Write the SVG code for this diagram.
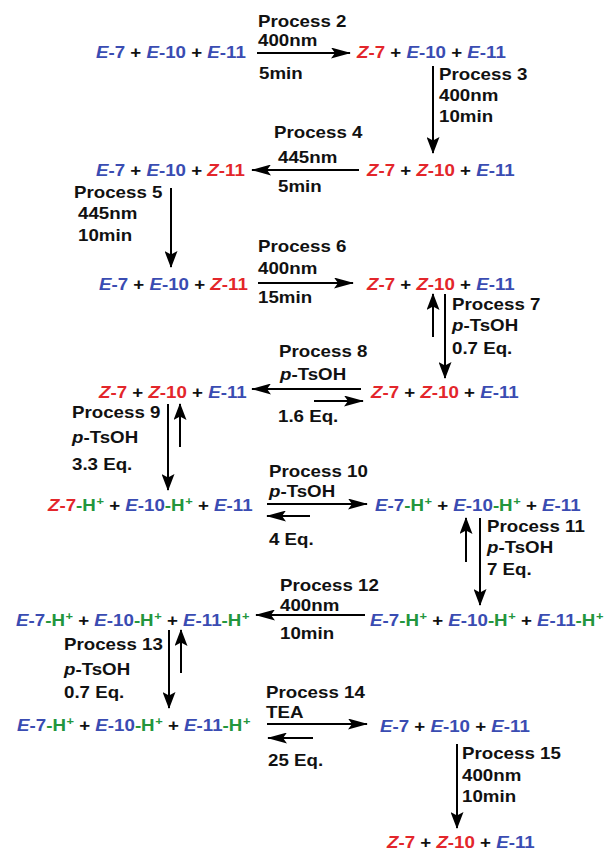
<svg xmlns="http://www.w3.org/2000/svg" width="609" height="853" viewBox="0 0 609 853">
<defs>
<style>
.t{font-family:"Liberation Sans",Arial,Helvetica,sans-serif;font-weight:bold;font-size:16px;fill:#111}
.b{fill:#3a4cb2}.r{fill:#e3262b}.g{fill:#23963d}.i{font-style:italic}.s{font-size:11px}
.c{fill:none;stroke:#000;stroke-width:2}
.h{marker-end:url(#ah)}.v{marker-end:url(#av)}
</style>
<marker id="ah" markerWidth="20" markerHeight="11" refX="19" refY="5.5" orient="auto" markerUnits="userSpaceOnUse">
<path d="M0,0 L20,5.5 L0,11 L4,5.5 z" fill="#000"/>
</marker>
<marker id="av" markerWidth="17" markerHeight="13" refX="16" refY="6.5" orient="auto" markerUnits="userSpaceOnUse">
<path d="M0,0 L17,6.5 L0,13 L3.5,6.5 z" fill="#000"/>
</marker>
</defs>
<rect width="609" height="853" fill="#fff"/>

<g id="row1-left" transform="translate(96 58) scale(1.17 1)"><text class="t"><tspan class="b"><tspan class="i">E</tspan>-7</tspan> + <tspan class="b"><tspan class="i">E</tspan>-10</tspan> + <tspan class="b"><tspan class="i">E</tspan>-11</tspan></text></g>
<g id="row1-right" transform="translate(357 58) scale(1.17 1)"><text class="t"><tspan class="r"><tspan class="i">Z</tspan>-7</tspan> + <tspan class="b"><tspan class="i">E</tspan>-10</tspan> + <tspan class="b"><tspan class="i">E</tspan>-11</tspan></text></g>
<g id="row2-right" transform="translate(367 176) scale(1.17 1)"><text class="t"><tspan class="r"><tspan class="i">Z</tspan>-7</tspan> + <tspan class="r"><tspan class="i">Z</tspan>-10</tspan> + <tspan class="b"><tspan class="i">E</tspan>-11</tspan></text></g>
<g id="row2-left" transform="translate(96 176) scale(1.17 1)"><text class="t"><tspan class="b"><tspan class="i">E</tspan>-7</tspan> + <tspan class="b"><tspan class="i">E</tspan>-10</tspan> + <tspan class="r"><tspan class="i">Z</tspan>-11</tspan></text></g>
<g id="row3-left" transform="translate(99 290) scale(1.17 1)"><text class="t"><tspan class="b"><tspan class="i">E</tspan>-7</tspan> + <tspan class="b"><tspan class="i">E</tspan>-10</tspan> + <tspan class="r"><tspan class="i">Z</tspan>-11</tspan></text></g>
<g id="row3-right" transform="translate(367 290) scale(1.17 1)"><text class="t"><tspan class="r"><tspan class="i">Z</tspan>-7</tspan> + <tspan class="r"><tspan class="i">Z</tspan>-10</tspan> + <tspan class="b"><tspan class="i">E</tspan>-11</tspan></text></g>
<g id="row4-right" transform="translate(371 398) scale(1.17 1)"><text class="t"><tspan class="r"><tspan class="i">Z</tspan>-7</tspan> + <tspan class="r"><tspan class="i">Z</tspan>-10</tspan> + <tspan class="b"><tspan class="i">E</tspan>-11</tspan></text></g>
<g id="row4-left" transform="translate(99 398) scale(1.17 1)"><text class="t"><tspan class="r"><tspan class="i">Z</tspan>-7</tspan> + <tspan class="r"><tspan class="i">Z</tspan>-10</tspan> + <tspan class="b"><tspan class="i">E</tspan>-11</tspan></text></g>
<g id="row5-left" transform="translate(48 511) scale(1.17 1)"><text class="t"><tspan class="r"><tspan class="i">Z</tspan>-7</tspan><tspan class="g">-H<tspan class="s" dx="0.5" dy="-6">+</tspan></tspan><tspan dy="6"> + </tspan><tspan class="b"><tspan class="i">E</tspan>-10</tspan><tspan class="g">-H<tspan class="s" dx="0.5" dy="-6">+</tspan></tspan><tspan dy="6"> + </tspan><tspan class="b"><tspan class="i">E</tspan>-11</tspan></text></g>
<g id="row5-right" transform="translate(375 511) scale(1.17 1)"><text class="t"><tspan class="b"><tspan class="i">E</tspan>-7</tspan><tspan class="g">-H<tspan class="s" dx="0.5" dy="-6">+</tspan></tspan><tspan dy="6"> + </tspan><tspan class="b"><tspan class="i">E</tspan>-10</tspan><tspan class="g">-H<tspan class="s" dx="0.5" dy="-6">+</tspan></tspan><tspan dy="6"> + </tspan><tspan class="b"><tspan class="i">E</tspan>-11</tspan></text></g>
<g id="row6-right" transform="translate(370 626) scale(1.17 1)"><text class="t"><tspan class="b"><tspan class="i">E</tspan>-7</tspan><tspan class="g">-H<tspan class="s" dx="0.5" dy="-6">+</tspan></tspan><tspan dy="6"> + </tspan><tspan class="b"><tspan class="i">E</tspan>-10</tspan><tspan class="g">-H<tspan class="s" dx="0.5" dy="-6">+</tspan></tspan><tspan dy="6"> + </tspan><tspan class="b"><tspan class="i">E</tspan>-11</tspan><tspan class="g">-H<tspan class="s" dx="0.5" dy="-6">+</tspan></tspan></text></g>
<g id="row6-left" transform="translate(16 626) scale(1.17 1)"><text class="t"><tspan class="b"><tspan class="i">E</tspan>-7</tspan><tspan class="g">-H<tspan class="s" dx="0.5" dy="-6">+</tspan></tspan><tspan dy="6"> + </tspan><tspan class="b"><tspan class="i">E</tspan>-10</tspan><tspan class="g">-H<tspan class="s" dx="0.5" dy="-6">+</tspan></tspan><tspan dy="6"> + </tspan><tspan class="b"><tspan class="i">E</tspan>-11</tspan><tspan class="g">-H<tspan class="s" dx="0.5" dy="-6">+</tspan></tspan></text></g>
<g id="row7-left" transform="translate(17 731) scale(1.17 1)"><text class="t"><tspan class="b"><tspan class="i">E</tspan>-7</tspan><tspan class="g">-H<tspan class="s" dx="0.5" dy="-6">+</tspan></tspan><tspan dy="6"> + </tspan><tspan class="b"><tspan class="i">E</tspan>-10</tspan><tspan class="g">-H<tspan class="s" dx="0.5" dy="-6">+</tspan></tspan><tspan dy="6"> + </tspan><tspan class="b"><tspan class="i">E</tspan>-11</tspan><tspan class="g">-H<tspan class="s" dx="0.5" dy="-6">+</tspan></tspan></text></g>
<g id="row7-right" transform="translate(380 732) scale(1.17 1)"><text class="t"><tspan class="b"><tspan class="i">E</tspan>-7</tspan> + <tspan class="b"><tspan class="i">E</tspan>-10</tspan> + <tspan class="b"><tspan class="i">E</tspan>-11</tspan></text></g>
<g id="row8-right" transform="translate(387 848) scale(1.17 1)"><text class="t"><tspan class="r"><tspan class="i">Z</tspan>-7</tspan> + <tspan class="r"><tspan class="i">Z</tspan>-10</tspan> + <tspan class="b"><tspan class="i">E</tspan>-11</tspan></text></g>

<g id="connectors">
<path class="c h" d="M257,53 H350"/>
<path class="c v" d="M433,66 V153"/>
<path class="c h" d="M359,170 H252"/>
<path class="c v" d="M171,188 V267"/>
<path class="c h" d="M258,283 H353"/>
<path class="c v" d="M433,337 V294"/>
<path class="c v" d="M445,294 V378"/>
<path class="c h" d="M361,389 H252"/>
<path class="c h" d="M314,401 H363"/>
<path class="c v" d="M168,404 V490"/>
<path class="c v" d="M180,447 V404"/>
<path class="c h" d="M267,504 H367"/>
<path class="c h" d="M310,516 H267"/>
<path class="c v" d="M466,562 V518"/>
<path class="c v" d="M480,518 V605"/>
<path class="c h" d="M365,615 H256"/>
<path class="c v" d="M169,630 V708"/>
<path class="c v" d="M181,673 V630"/>
<path class="c h" d="M267,724 H367"/>
<path class="c h" d="M313,738 H268"/>
<path class="c v" d="M457,744 V828"/>
</g>

<g id="label-p2">
<text class="t" transform="translate(258 27) scale(1.17 1)">Process 2</text>
<text class="t" transform="translate(258 46) scale(1.17 1)">400nm</text>
<text class="t" transform="translate(259 79) scale(1.17 1)">5min</text>
</g>
<g id="label-p3">
<text class="t" transform="translate(439 80) scale(1.17 1)">Process 3</text>
<text class="t" transform="translate(439 101) scale(1.17 1)">400nm</text>
<text class="t" transform="translate(439 122) scale(1.17 1)">10min</text>
</g>
<g id="label-p4">
<text class="t" transform="translate(274 138) scale(1.17 1)">Process 4</text>
<text class="t" transform="translate(278 163) scale(1.17 1)">445nm</text>
<text class="t" transform="translate(278 192) scale(1.17 1)">5min</text>
</g>
<g id="label-p5">
<text class="t" transform="translate(74 198) scale(1.17 1)">Process 5</text>
<text class="t" transform="translate(78 219) scale(1.17 1)">445nm</text>
<text class="t" transform="translate(78 241) scale(1.17 1)">10min</text>
</g>
<g id="label-p6">
<text class="t" transform="translate(258 252) scale(1.17 1)">Process 6</text>
<text class="t" transform="translate(258 274) scale(1.17 1)">400nm</text>
<text class="t" transform="translate(258 303) scale(1.17 1)">15min</text>
</g>
<g id="label-p7">
<text class="t" transform="translate(452 310) scale(1.17 1)">Process 7</text>
<text class="t" transform="translate(452 331) scale(1.17 1)"><tspan class="i">p</tspan>-TsOH</text>
<text class="t" transform="translate(452 354) scale(1.17 1)">0.7 Eq.</text>
</g>
<g id="label-p8">
<text class="t" transform="translate(279 357) scale(1.17 1)">Process 8</text>
<text class="t" transform="translate(280 380) scale(1.17 1)"><tspan class="i">p</tspan>-TsOH</text>
<text class="t" transform="translate(278 422) scale(1.17 1)">1.6 Eq.</text>
</g>
<g id="label-p9">
<text class="t" transform="translate(72 418) scale(1.17 1)">Process 9</text>
<text class="t" transform="translate(72 443) scale(1.17 1)"><tspan class="i">p</tspan>-TsOH</text>
<text class="t" transform="translate(72 470) scale(1.17 1)">3.3 Eq.</text>
</g>
<g id="label-p10">
<text class="t" transform="translate(269 477) scale(1.17 1)">Process 10</text>
<text class="t" transform="translate(269 497) scale(1.17 1)"><tspan class="i">p</tspan>-TsOH</text>
<text class="t" transform="translate(269 545) scale(1.17 1)">4 Eq.</text>
</g>
<g id="label-p11">
<text class="t" transform="translate(487 532) scale(1.17 1)">Process 11</text>
<text class="t" transform="translate(487 553) scale(1.17 1)"><tspan class="i">p</tspan>-TsOH</text>
<text class="t" transform="translate(487 575) scale(1.17 1)">7 Eq.</text>
</g>
<g id="label-p12">
<text class="t" transform="translate(280 591) scale(1.17 1)">Process 12</text>
<text class="t" transform="translate(280 611) scale(1.17 1)">400nm</text>
<text class="t" transform="translate(280 639) scale(1.17 1)">10min</text>
</g>
<g id="label-p13">
<text class="t" transform="translate(64 650) scale(1.17 1)">Process 13</text>
<text class="t" transform="translate(64 675) scale(1.17 1)"><tspan class="i">p</tspan>-TsOH</text>
<text class="t" transform="translate(64 698) scale(1.17 1)">0.7 Eq.</text>
</g>
<g id="label-p14">
<text class="t" transform="translate(266 698) scale(1.17 1)">Process 14</text>
<text class="t" transform="translate(266 718) scale(1.17 1)">TEA</text>
<text class="t" transform="translate(268 766) scale(1.17 1)">25 Eq.</text>
</g>
<g id="label-p15">
<text class="t" transform="translate(462 759) scale(1.17 1)">Process 15</text>
<text class="t" transform="translate(462 781) scale(1.17 1)">400nm</text>
<text class="t" transform="translate(462 802) scale(1.17 1)">10min</text>
</g>
</svg>
